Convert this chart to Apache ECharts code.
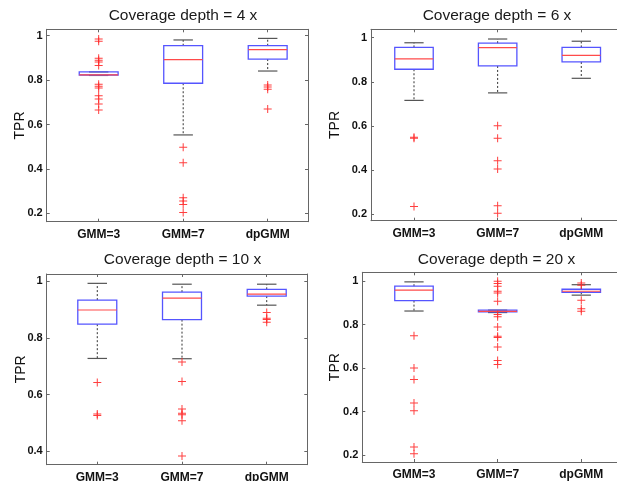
<!DOCTYPE html>
<html>
<head>
<meta charset="utf-8">
<title>Coverage depth TPR</title>
<script src="https://cdn.jsdelivr.net/npm/echarts@6/dist/echarts.min.js"></script>
<style>
  html, body { margin: 0; padding: 0; background: #fff; }
  #chart { width: 617px; height: 481px; }
</style>
</head>
<body>
<div id="chart"></div>
<script>
// categories and panels
var categories = ['GMM=3', 'GMM=7', 'dpGMM'];
var depths = [4, 6, 10, 20];
var yTicksFull = [0.2, 0.4, 0.6, 0.8, 1];
var yTicksShort = [0.4, 0.6, 0.8, 1];

// box stats per method: [low whisker, Q1, median, Q3, high whisker]
var boxes4 = [
  [0.821, 0.823, 0.824, 0.837, 0.837],
  [0.553, 0.786, 0.892, 0.955, 0.981],
  [0.841, 0.895, 0.937, 0.955, 0.988]
];
var boxes6 = [
  [0.716, 0.857, 0.904, 0.956, 0.977],
  [0.750, 0.872, 0.955, 0.975, 0.994],
  [0.816, 0.890, 0.920, 0.956, 0.984]
];
var boxes10 = [
  [0.728, 0.849, 0.899, 0.934, 0.993],
  [0.727, 0.865, 0.941, 0.962, 0.990],
  [0.916, 0.948, 0.955, 0.972, 0.990]
];
var boxes20 = [
  [0.863, 0.911, 0.959, 0.977, 0.997],
  [0.856, 0.859, 0.861, 0.867, 0.867],
  [0.936, 0.949, 0.954, 0.963, 0.984]
];

// outliers per method
var outliers4 = [
  [0.985, 0.975, 0.898, 0.890, 0.882, 0.866, 0.781, 0.772, 0.765, 0.730, 0.715, 0.692, 0.665],
  [0.497, 0.428, 0.270, 0.255, 0.240, 0.203],
  [0.778, 0.769, 0.759, 0.670]
];
var outliers6 = [
  [0.549, 0.545, 0.235],
  [0.601, 0.544, 0.442, 0.405, 0.239, 0.205],
  []
];
var outliers10 = [
  [0.643, 0.532, 0.527],
  [0.715, 0.647, 0.550, 0.535, 0.529, 0.508, 0.384],
  [0.890, 0.870, 0.865, 0.856]
];
var outliers20 = [
  [0.749, 0.601, 0.548, 0.440, 0.405, 0.238, 0.207],
  [1.0, 0.989, 0.977, 0.954, 0.946, 0.908, 0.847, 0.837, 0.790, 0.747, 0.741, 0.698, 0.635, 0.617],
  [0.992, 0.982, 0.913, 0.874, 0.862]
];

var allBoxes = [boxes4, boxes6, boxes10, boxes20];
var allOutliers = [outliers4, outliers6, outliers10, outliers20];

// panel layout (pixels) and axis ranges
var panels = [
  { left: 46.7, top: 29.3, width: 261.3, height: 192.4, xMin: 0.385, xMax: 3.477, yMin: 0.162, yMax: 1.029, ticks: yTicksFull, nameGap: 20, title: [183, 16] },
  { left: 371, top: 29.3, width: 252.1, height: 191.4, xMin: 0.486, xMax: 3.5, yMin: 0.171, yMax: 1.038, ticks: yTicksFull, nameGap: 28.5, title: [497, 16] },
  { left: 46.7, top: 274, width: 260.6, height: 190.7, xMin: 0.403, xMax: 3.479, yMin: 0.353, yMax: 1.026, ticks: yTicksShort, nameGap: 19, title: [182.5, 259.7] },
  { left: 362.3, top: 272.3, width: 260.8, height: 189.7, xMin: 0.382, xMax: 3.5, yMin: 0.169, yMax: 1.041, ticks: yTicksFull, nameGap: 20, title: [496.5, 259.7] }
];

var BOX_W = 0.46;
var FRAME = '#666';
var FONT = '"Liberation Sans", Arial, sans-serif';
var PLUS = 'path://M3.5,0H4.5V3.5H8V4.5H4.5V8H3.5V4.5H0V3.5H3.5Z';

function renderBox(params, api) {
  var x = api.value(0);
  var lo = api.coord([x, api.value(1)]);
  var q1 = api.coord([x, api.value(2)]);
  var md = api.coord([x, api.value(3)]);
  var q3 = api.coord([x, api.value(4)]);
  var hi = api.coord([x, api.value(5)]);
  var bw = api.size([BOX_W, 0])[0];
  var cw = bw / 2;
  var cx = lo[0];
  var dash = { stroke: '#333', lineWidth: 1, lineDash: [2, 2] };
  var cap = { stroke: '#555', lineWidth: 1.2 };
  return {
    type: 'group',
    children: [
      { type: 'line', shape: { x1: cx, y1: q3[1], x2: cx, y2: hi[1] }, style: dash },
      { type: 'line', shape: { x1: cx, y1: q1[1], x2: cx, y2: lo[1] }, style: dash },
      { type: 'line', shape: { x1: cx - cw / 2, y1: hi[1], x2: cx + cw / 2, y2: hi[1] }, style: cap },
      { type: 'line', shape: { x1: cx - cw / 2, y1: lo[1], x2: cx + cw / 2, y2: lo[1] }, style: cap },
      { type: 'rect', shape: { x: cx - bw / 2, y: q3[1], width: bw, height: q1[1] - q3[1] },
        style: { fill: 'none', stroke: '#5555ff', lineWidth: 1.3 } },
      { type: 'line', shape: { x1: cx - bw / 2, y1: md[1], x2: cx + bw / 2, y2: md[1] },
        style: { stroke: '#ff4a4a', lineWidth: 1.2 } }
    ]
  };
}

var grids = [], xAxes = [], yAxes = [], series = [], texts = [];

panels.forEach(function (p, i) {
  grids.push({ left: p.left, top: p.top, width: p.width, height: p.height, containLabel: false, outerBoundsMode: 'none' });

  var xBase = {
    type: 'value', gridIndex: i, min: p.xMin, max: p.xMax,
    axisLine: { show: true, onZero: false, lineStyle: { color: FRAME, width: 1 } },
    axisTick: { show: true, inside: true, length: 3, customValues: [1, 2, 3], lineStyle: { color: FRAME } },
    splitLine: { show: false }
  };
  xAxes.push(Object.assign({}, xBase, {
    position: 'bottom',
    axisLabel: {
      show: true, customValues: [1, 2, 3], margin: 7,
      fontFamily: FONT, fontSize: 12, fontWeight: 'bold', color: '#111',
      formatter: function (v) { return categories[Math.round(v) - 1]; }
    }
  }));
  xAxes.push(Object.assign({}, xBase, { position: 'top', axisLabel: { show: false } }));

  var yBase = {
    type: 'value', gridIndex: i, min: p.yMin, max: p.yMax,
    axisLine: { show: true, onZero: false, lineStyle: { color: FRAME, width: 1 } },
    axisTick: { show: true, inside: true, length: 3, customValues: p.ticks, lineStyle: { color: FRAME } },
    splitLine: { show: false }
  };
  yAxes.push(Object.assign({}, yBase, {
    position: 'left',
    name: 'TPR', nameLocation: 'middle', nameGap: p.nameGap, nameMoveOverlap: false,
    nameTextStyle: { fontFamily: FONT, fontSize: 14, color: '#111' },
    axisLabel: {
      show: true, customValues: p.ticks, margin: 4,
      fontFamily: FONT, fontSize: 11, fontWeight: 'bold', color: '#111'
    }
  }));
  yAxes.push(Object.assign({}, yBase, { position: 'right', axisLabel: { show: false } }));

  series.push({
    type: 'custom',
    xAxisIndex: i * 2, yAxisIndex: i * 2,
    renderItem: renderBox,
    encode: { x: 0, y: [1, 2, 3, 4, 5] },
    silent: true,
    data: allBoxes[i].map(function (b, k) { return [k + 1].concat(b); })
  });

  var pts = [];
  allOutliers[i].forEach(function (vals, k) {
    vals.forEach(function (v) { pts.push([k + 1, v]); });
  });
  series.push({
    type: 'scatter',
    xAxisIndex: i * 2, yAxisIndex: i * 2,
    symbol: PLUS, symbolSize: 8,
    itemStyle: { color: '#ff2a2a', opacity: 0.9 },
    silent: true,
    data: pts
  });

  texts.push({
    type: 'text', x: p.title[0], y: p.title[1],
    style: {
      text: 'Coverage depth = ' + depths[i] + ' x',
      font: '15.5px ' + FONT, fill: '#1a1a1a',
      textAlign: 'center', textVerticalAlign: 'middle'
    }
  });
});

var chart = echarts.init(document.getElementById('chart'));
chart.setOption({
  animation: false,
  backgroundColor: '#fff',
  grid: grids,
  xAxis: xAxes,
  yAxis: yAxes,
  series: series,
  graphic: texts
});
</script>
</body>
</html>
